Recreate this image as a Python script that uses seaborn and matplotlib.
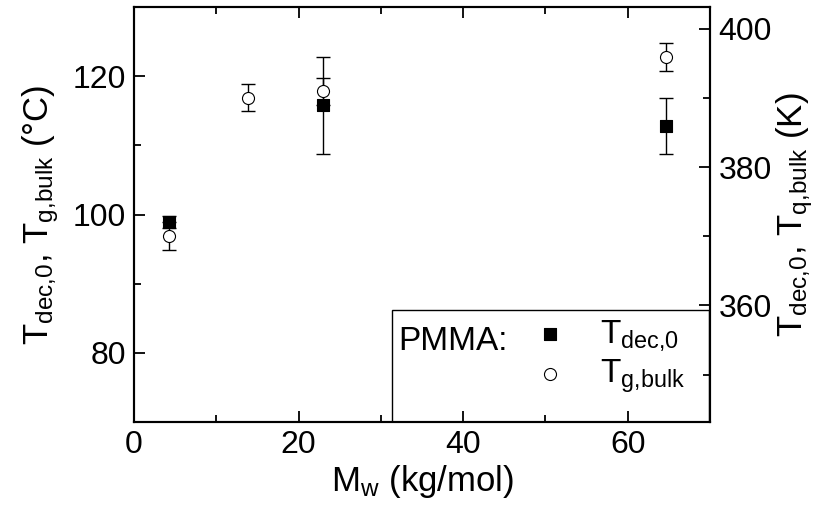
import matplotlib
matplotlib.use("Agg")
import matplotlib.pyplot as plt
import seaborn as sns
import pandas as pd
from matplotlib.patches import Rectangle
from matplotlib.ticker import MultipleLocator

# ---- data ----
mw_dec = [4.2, 23.0, 64.7]
t_dec = [98.9, 115.8, 112.8]
t_dec_err = [0.9, 7.0, 4.0]

mw_g = [4.2, 13.9, 23.0, 64.7]
t_g = [96.9, 116.9, 117.8, 122.8]
t_g_err = [2.0, 2.0, 2.0, 2.0]

legend_labels = [r"T$_\mathregular{dec{,}0}$", r"T$_\mathregular{g{,}bulk}$"]

sns.set_theme(style="ticks")
plt.rcParams["font.family"] = ["Liberation Sans", "DejaVu Sans"]
plt.rcParams["mathtext.fontset"] = "custom"
plt.rcParams["mathtext.rm"] = "Liberation Sans"
plt.rcParams["mathtext.it"] = "Liberation Sans"
plt.rcParams["mathtext.default"] = "regular"
plt.rcParams["text.color"] = "black"
plt.rcParams["axes.labelcolor"] = "black"
plt.rcParams["xtick.color"] = "black"
plt.rcParams["ytick.color"] = "black"

fig = plt.figure(figsize=(8.26, 5.12), dpi=100)
ax = fig.add_axes([134/826, 1-422/512, 576/826, 415/512])

df_dec = pd.DataFrame({"Mw": mw_dec, "T": t_dec})
df_g = pd.DataFrame({"Mw": mw_g, "T": t_g})

ax.errorbar(mw_dec, t_dec, yerr=t_dec_err, fmt="none", ecolor="black",
            elinewidth=1.0, capsize=5, capthick=1.0, zorder=2)
ax.errorbar(mw_g, t_g, yerr=t_g_err, fmt="none", ecolor="black",
            elinewidth=1.0, capsize=5, capthick=1.0, zorder=2)
sns.scatterplot(data=df_dec, x="Mw", y="T", marker="s", s=65, color="black",
                edgecolor="black", linewidth=0.8, ax=ax, zorder=3, label=legend_labels[0])
sns.scatterplot(data=df_g, x="Mw", y="T", marker="o", s=75, color="white",
                edgecolor="black", linewidth=0.8, ax=ax, zorder=3, label=legend_labels[1])

ax.set_xlim(0, 70)
ax.set_ylim(70, 130)
ax.xaxis.set_major_locator(MultipleLocator(20))
ax.xaxis.set_minor_locator(MultipleLocator(10))
ax.yaxis.set_major_locator(MultipleLocator(20))
ax.yaxis.set_minor_locator(MultipleLocator(10))
ax.tick_params(which="both", direction="in", top=True, right=False, width=1.3,
               labelsize=23, colors="black", pad=6)
ax.tick_params(which="major", length=8)
ax.tick_params(which="minor", length=5)
for sp in ax.spines.values():
    sp.set_linewidth(1.5)
    sp.set_color("black")

ax.set_xlabel(r"M$_\mathregular{w}$ (kg/mol)", fontsize=25, labelpad=2, color="black")
ax.set_ylabel(r"T$_\mathregular{dec{,}0}$, T$_\mathregular{g{,}bulk}$ (°C)", fontsize=25,
              labelpad=8, color="black")

ax2 = ax.twinx()
ax2.set_ylim(70 + 273.15, 130 + 273.15)
ax2.yaxis.set_major_locator(MultipleLocator(20))
ax2.yaxis.set_minor_locator(MultipleLocator(10))
ax2.tick_params(which="both", direction="in", width=1.3, labelsize=23, colors="black", pad=6)
ax2.tick_params(which="major", length=8)
ax2.tick_params(which="minor", length=5)
for sp in ax2.spines.values():
    sp.set_linewidth(1.5)
    sp.set_color("black")
ax2.set_ylabel(r"T$_\mathregular{dec{,}0}$, T$_\mathregular{q{,}bulk}$ (K)", fontsize=25,
               labelpad=2, color="black")

# legend box
ax.add_patch(Rectangle(((392-134)/576, 0), (709-392)/576, (422-310)/415,
                       transform=ax.transAxes, fill=False, edgecolor="black",
                       linewidth=1.0, zorder=4))
ax.text((398-134)/576, (422-341)/415, "PMMA:", transform=ax.transAxes,
        fontsize=24, va="center", ha="left", zorder=5, color="black")
leg = ax.legend(loc="upper left", bbox_to_anchor=((530-134)/576, (422-318)/415),
                frameon=False, fontsize=24, handletextpad=0.9, handlelength=1.2,
                labelspacing=0.15, borderaxespad=0, borderpad=0, labelcolor="black")

fig.savefig("out.png", dpi=100)
